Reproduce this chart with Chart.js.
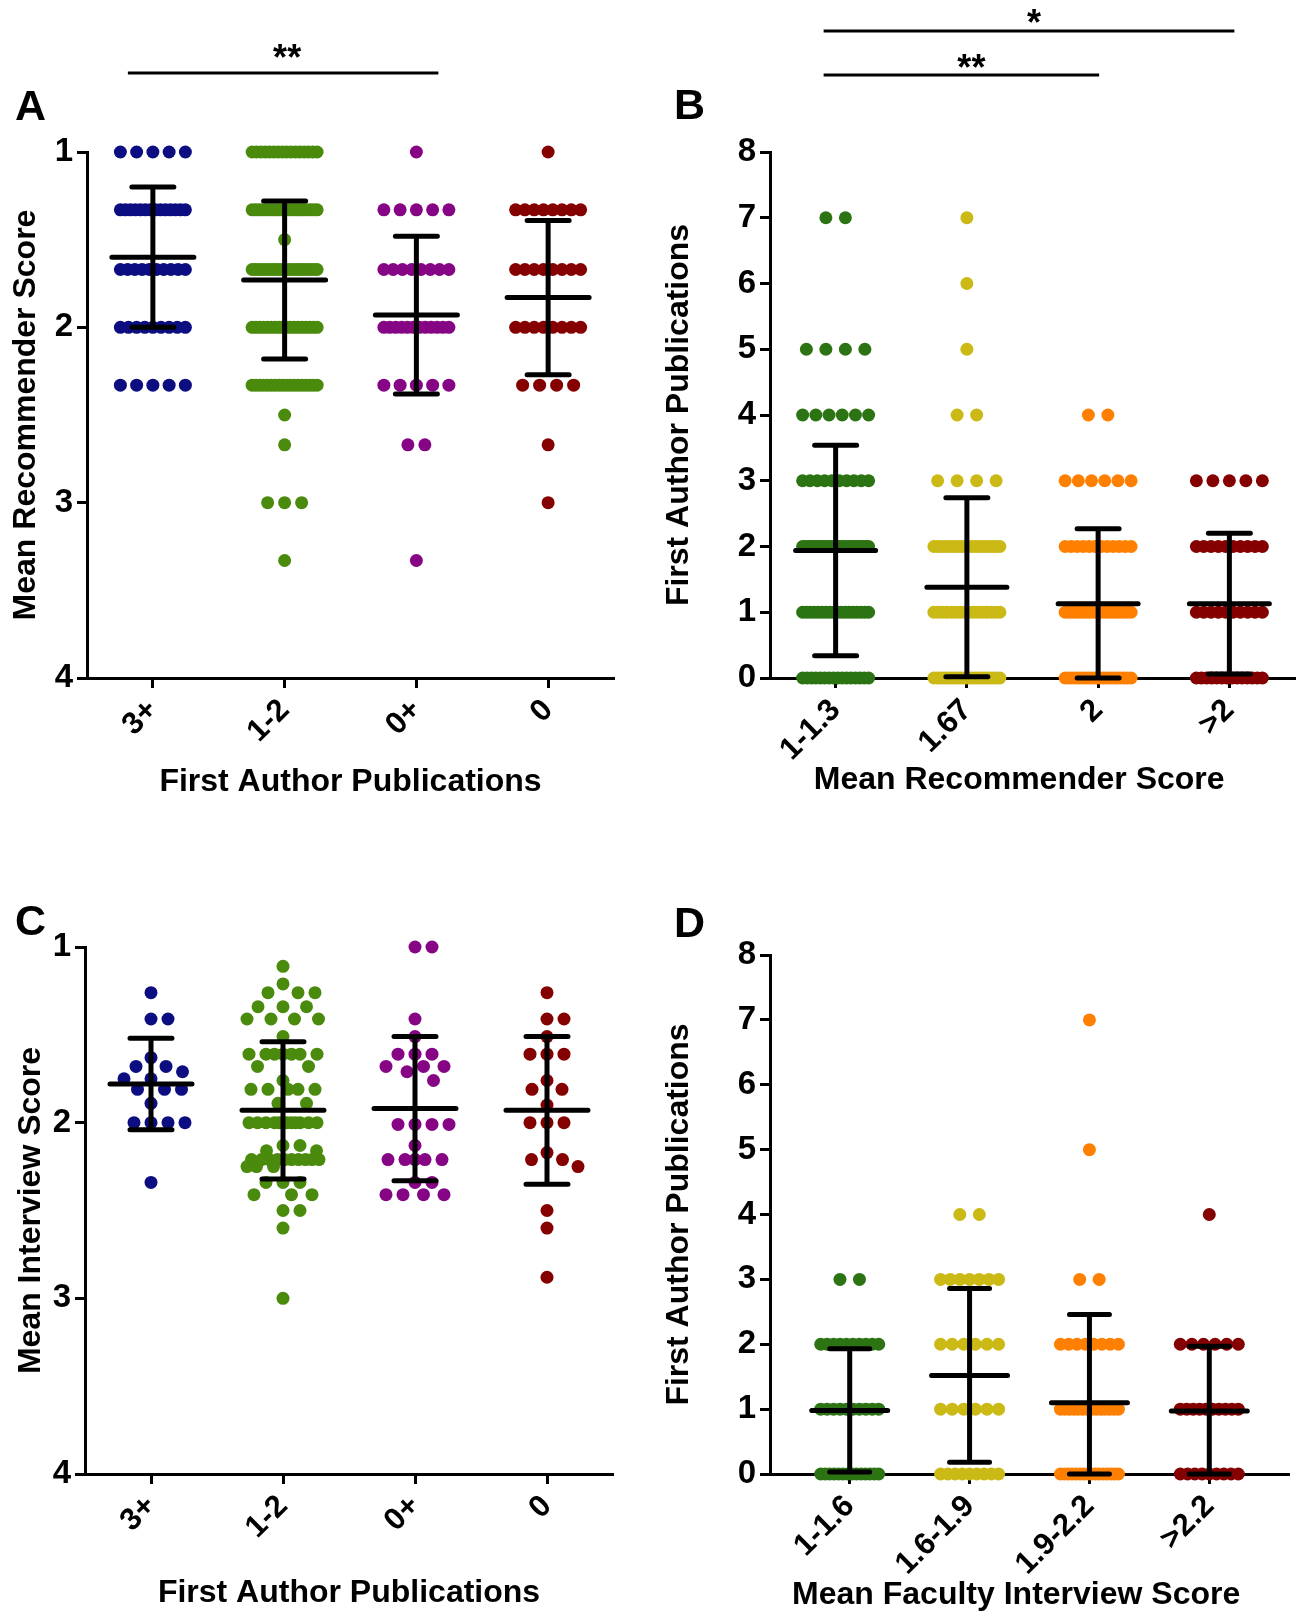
<!DOCTYPE html>
<html>
<head>
<meta charset="utf-8">
<title>Scatter dot plots</title>
<script src="https://cdn.jsdelivr.net/npm/chart.js@4.4.1/dist/chart.umd.min.js"></script>
<style>
  html, body { margin: 0; padding: 0; background: #ffffff; }
  #page { position: relative; width: 1303px; height: 1614px; overflow: hidden; }
  #page canvas { position: absolute; }
</style>
</head>
<body>
<div id="page">
  <canvas id="chartA" width="650" height="807" style="left:0px;top:0px"></canvas>
  <canvas id="chartB" width="653" height="807" style="left:650px;top:0px"></canvas>
  <canvas id="chartC" width="650" height="807" style="left:0px;top:807px"></canvas>
  <canvas id="chartD" width="653" height="807" style="left:650px;top:807px"></canvas>
</div>
<script>
// ---------- data ----------
// A: mean recommender score by first author publications (dots per score level)
const pubGroups = ['3+', '1-2', '0+', '0'];
const recLevels = [1, 1.33, 1.5, 1.67, 2, 2.33, 2.5, 2.67, 3, 3.33];
const recCount3plus = [5, 14, 0, 10, 9, 5, 0, 0, 0, 0];
const recCount1to2 = [16, 20, 1, 20, 18, 18, 1, 1, 3, 1];
const recCount0plus = [1, 5, 0, 8, 12, 5, 0, 2, 0, 1];
const recCount0 = [1, 8, 0, 8, 8, 4, 0, 1, 1, 0];
const recMean = [1.60, 1.73, 1.93, 1.83];
const recSD = [0.40, 0.45, 0.45, 0.44];

// B: first author publications by mean recommender score
const recGroups = ['1-1.3', '1.67', '2', '>2'];
const pubLevels = [0, 1, 2, 3, 4, 5, 6, 7];
const pubCountRec1 = [16, 18, 24, 10, 6, 4, 0, 2];
const pubCountRec167 = [20, 16, 18, 4, 2, 1, 1, 1];
const pubCountRec2 = [20, 18, 12, 6, 2, 0, 0, 0];
const pubCountRecOver2 = [14, 10, 10, 5, 0, 0, 0, 0];
const pubMeanB = [1.94, 1.38, 1.13, 1.13];
const pubSDB = [1.60, 1.36, 1.14, 1.07];

// C: mean interview score by first author publications (one value per applicant)
const int3plus = [1.26, 1.41, 1.41, 1.63, 1.68, 1.68, 1.71, 1.75, 1.75, 1.81, 1.81, 1.81, 1.89,
  2.0, 2.0, 2.0, 2.0, 2.34];
const int1to2 = [1.11, 1.21, 1.26, 1.26, 1.26, 1.34, 1.34, 1.34, 1.41, 1.41, 1.41, 1.41, 1.51,
  1.61, 1.61, 1.61, 1.61, 1.61, 1.61, 1.61, 1.68, 1.68, 1.76, 1.81, 1.81, 1.81, 1.81, 1.81,
  1.89, 1.89, 2.0, 2.0, 2.0, 2.0, 2.0, 2.0, 2.0, 2.0, 2.0, 2.0, 2.0, 2.0, 2.13, 2.13, 2.16, 2.16,
  2.21, 2.21, 2.21, 2.21, 2.21, 2.21, 2.21, 2.21, 2.21, 2.21, 2.25, 2.25, 2.25, 2.34, 2.34, 2.34,
  2.41, 2.41, 2.41, 2.5, 2.5, 2.6, 3.0];
const int0plus = [1.0, 1.0, 1.41, 1.51, 1.61, 1.61, 1.61, 1.68, 1.68, 1.68, 1.71, 1.76,
  2.01, 2.01, 2.01, 2.01, 2.13, 2.21, 2.21, 2.21, 2.21, 2.21, 2.34, 2.34, 2.41, 2.41, 2.41, 2.41];
const int0 = [1.26, 1.41, 1.41, 1.51, 1.61, 1.61, 1.61, 1.76, 1.81, 1.81, 1.9, 2.0, 2.0, 2.0,
  2.17, 2.21, 2.21, 2.25, 2.5, 2.6, 2.88];
const intMean = [1.78, 1.93, 1.92, 1.93];
const intSD = [0.26, 0.39, 0.41, 0.42];

// D: first author publications by mean faculty interview score
const intGroups = ['1-1.6', '1.6-1.9', '1.9-2.2', '>2.2'];
const pubCountInt1 = [14, 10, 10, 2, 0, 0, 0, 0];
const pubCountInt16 = [9, 6, 6, 7, 2, 0, 0, 0];
const pubCountInt19 = [16, 14, 8, 2, 0, 1, 0, 1];
const pubCountIntOver22 = [9, 10, 6, 0, 1, 0, 0, 0];
const pubMeanD = [0.98, 1.52, 1.10, 0.97];
const pubSDD = [0.95, 1.34, 1.36, 1.00];

const pubColors = ['#0d0d82', '#4a8a0d', '#850585', '#850000'];
const scoreColors = ['#2c7413', '#cbb916', '#ff8000', '#850000'];

// ---------- layout ----------
const FONT = "'Liberation Sans', Arial, sans-serif";
Chart.defaults.font.family = FONT;
Chart.defaults.color = '#000';

const geoA = { l: 87, r: 614, t: 152, b: 678, xMin: -0.5, xMax: 3.5 };
const geoB = { l: 120, r: 645, t: 152, b: 678, xMin: -0.5, xMax: 3.5 };
const geoC = { l: 85, r: 613, t: 140, b: 667, xMin: -0.5, xMax: 3.5 };
const geoD = { l: 120, r: 639, t: 148, b: 667, xMin: -0.665, xMax: 3.665 };

function pxPerX(g) { return (g.r - g.l) / (g.xMax - g.xMin); }

// dots with the same value sit in one row, squeezed when the row gets too wide
function rowPoints(levels, counts, idx, pxX, gap, maxHalf) {
  const pts = [];
  levels.forEach((v, k) => {
    const n = counts[k];
    if (!n) return;
    const step = n > 1 ? Math.min(gap, 2 * maxHalf / (n - 1)) : 0;
    for (let j = 0; j < n; j++) {
      pts.push({ x: idx + (j - (n - 1) / 2) * step / pxX, y: v });
    }
  });
  return pts;
}

// simple beeswarm for continuous values
function swarmPoints(values, idx, pxX, pxY, gap, maxHalf) {
  const placed = [];
  values.slice().sort((a, b) => a - b).forEach(v => {
    const y = v * pxY;
    let best = 0, bestScore = -Infinity;
    for (let k = 0; k <= maxHalf && bestScore !== Infinity; k += 0.5) {
      for (const s of (k === 0 ? [0] : [k, -k])) {
        let minD = Infinity;
        placed.forEach(p => { minD = Math.min(minD, Math.hypot(p.x - s, p.y - y)); });
        if (minD >= gap) { best = s; bestScore = Infinity; break; }
        if (minD > bestScore) { bestScore = minD; best = s; }
      }
    }
    placed.push({ x: best, y: y, v: v });
  });
  return placed.map(p => ({ x: idx + p.x / pxX, y: p.v }));
}

function dotSet(label, data, color) {
  return {
    label: label,
    data: data,
    backgroundColor: color,
    borderWidth: 0,
    pointRadius: 6.5,
    pointHoverRadius: 6.5,
    clip: false
  };
}

const decorPlugin = {
  id: 'decor',
  afterDatasetsDraw(chart, args, o) {
    const ctx = chart.ctx;
    const xs = chart.scales.x, ys = chart.scales.y;
    ctx.save();
    ctx.strokeStyle = '#000';
    ctx.lineWidth = 5;
    ctx.lineCap = 'round';
    o.means.forEach((m, i) => {
      const cx = xs.getPixelForValue(i);
      const yM = ys.getPixelForValue(m);
      const yLo = ys.getPixelForValue(Math.max(m - o.sds[i], ys.min));
      const yHi = ys.getPixelForValue(Math.min(m + o.sds[i], ys.max));
      ctx.beginPath();
      ctx.moveTo(cx, yLo); ctx.lineTo(cx, yHi);
      ctx.moveTo(cx - o.capHalf, yLo); ctx.lineTo(cx + o.capHalf, yLo);
      ctx.moveTo(cx - o.capHalf, yHi); ctx.lineTo(cx + o.capHalf, yHi);
      ctx.moveTo(cx - o.meanHalf, yM); ctx.lineTo(cx + o.meanHalf, yM);
      ctx.stroke();
    });
    ctx.restore();
  },
  afterDraw(chart, args, o) {
    const ctx = chart.ctx;
    const xs = chart.scales.x;
    ctx.save();
    ctx.fillStyle = '#000';
    ctx.strokeStyle = '#000';
    ctx.textBaseline = 'alphabetic';
    ctx.textAlign = 'left';
    ctx.font = 'bold 43px ' + FONT;
    ctx.fillText(o.letter, o.letterX, o.letterY);
    (o.sig || []).forEach(s => {
      const x1 = xs.getPixelForValue(s.from) - s.padL;
      const x2 = xs.getPixelForValue(s.to) + s.padR;
      ctx.lineWidth = 3;
      ctx.beginPath();
      ctx.moveTo(x1, s.y); ctx.lineTo(x2, s.y);
      ctx.stroke();
      ctx.font = 'bold 36px ' + FONT;
      ctx.textAlign = 'center';
      ctx.fillText(s.text, (x1 + x2) / 2 + s.dx, s.textY);
    });
    ctx.restore();
  }
};

function makePanel(id, g, datasets, axes, decor) {
  const canvas = document.getElementById(id);
  const W = canvas.width, H = canvas.height;
  return new Chart(canvas.getContext('2d'), {
    type: 'scatter',
    data: { datasets: datasets },
    options: {
      responsive: false,
      animation: false,
      events: [],
      layout: { padding: { left: 0, top: g.t, right: W - g.r, bottom: 0 } },
      plugins: { legend: { display: false }, tooltip: { enabled: false }, decor: decor },
      scales: {
        x: {
          type: 'linear',
          min: g.xMin,
          max: g.xMax,
          afterBuildTicks: s => { s.ticks = axes.labels.map((_, i) => ({ value: i })); },
          afterFit: s => { s.height = H - g.b; },
          ticks: {
            autoSkip: false,
            minRotation: 45,
            maxRotation: 45,
            padding: 4,
            color: '#000',
            font: { size: 31, weight: 'bold' },
            callback: v => axes.labels[v]
          },
          grid: { drawOnChartArea: false, drawTicks: true, tickLength: 10, tickColor: '#000', tickWidth: 3 },
          border: { display: true, color: '#000', width: 3 },
          title: {
            display: true, text: axes.xTitle, color: '#000',
            font: { size: 32, weight: 'bold' }, padding: { top: 0, bottom: axes.xTitlePad }
          }
        },
        y: {
          type: 'linear',
          min: axes.yMin,
          max: axes.yMax,
          reverse: axes.reverse,
          afterFit: s => { s.width = g.l; },
          ticks: { stepSize: 1, padding: 4, color: '#000', font: { size: 33, weight: 'bold' } },
          grid: { drawOnChartArea: false, drawTicks: true, tickLength: 10, tickColor: '#000', tickWidth: 3 },
          border: { display: true, color: '#000', width: 3 },
          title: {
            display: true, text: axes.yTitle, color: '#000',
            font: { size: 32, weight: 'bold' }, padding: { top: axes.yTitlePad, bottom: 0 }
          }
        }
      }
    },
    plugins: [decorPlugin]
  });
}

// trailing spaces nudge an axis title left of the axis centre, as in the original
const pad3 = '\u00a0\u00a0\u00a0';

// ---------- panel A ----------
const recCounts = [recCount3plus, recCount1to2, recCount0plus, recCount0];
makePanel('chartA', geoA,
  recCounts.map((c, i) => dotSet(pubGroups[i], rowPoints(recLevels, c, i, pxPerX(geoA), 17, 32.5), pubColors[i])),
  { labels: pubGroups, xTitle: 'First Author Publications', xTitlePad: 6,
    yTitle: 'Mean Recommender Score', yTitlePad: 7, yMin: 1, yMax: 4, reverse: true },
  { letter: 'A', letterX: 15, letterY: 120, means: recMean, sds: recSD, meanHalf: 41, capHalf: 21,
    sig: [{ from: 0, to: 2, padL: 25, padR: 22, y: 73, text: '**', dx: 4, textY: 70 }] });

// ---------- panel B ----------
const pubCountsB = [pubCountRec1, pubCountRec167, pubCountRec2, pubCountRecOver2];
makePanel('chartB', geoB,
  pubCountsB.map((c, i) => dotSet(recGroups[i], rowPoints(pubLevels, c, i, pxPerX(geoB), 19.5, 33), scoreColors[i])),
  { labels: recGroups, xTitle: 'Mean Recommender Score' + pad3, xTitlePad: 8,
    yTitle: 'First Author Publications', yTitlePad: 10, yMin: 0, yMax: 8, reverse: false },
  { letter: 'B', letterX: 24, letterY: 119, means: pubMeanB, sds: pubSDB, meanHalf: 40, capHalf: 21,
    sig: [{ from: 0, to: 3, padL: 12, padR: 5, y: 31, text: '*', dx: 5, textY: 35 },
          { from: 0, to: 2, padL: 12, padR: 1, y: 75, text: '**', dx: 10, textY: 80 }] });

// ---------- panel C ----------
const intValues = [int3plus, int1to2, int0plus, int0];
const pxYC = (geoC.b - geoC.t) / 3;
makePanel('chartC', geoC,
  intValues.map((v, i) => dotSet(pubGroups[i], swarmPoints(v, i, pxPerX(geoC), pxYC, 17, 36), pubColors[i])),
  { labels: pubGroups, xTitle: 'First Author Publications', xTitlePad: 2,
    yTitle: 'Mean Interview Score', yTitlePad: 12, yMin: 1, yMax: 4, reverse: true },
  { letter: 'C', letterX: 15, letterY: 128, means: intMean, sds: intSD, meanHalf: 41, capHalf: 21 });

// ---------- panel D ----------
const pubCountsD = [pubCountInt1, pubCountInt16, pubCountInt19, pubCountIntOver22];
makePanel('chartD', geoD,
  pubCountsD.map((c, i) => dotSet(intGroups[i], rowPoints(pubLevels, c, i, pxPerX(geoD), 19.5, 29), scoreColors[i])),
  { labels: intGroups, xTitle: 'Mean Faculty Interview Score' + pad3, xTitlePad: 0,
    yTitle: 'First Author Publications', yTitlePad: 10, yMin: 0, yMax: 8, reverse: false },
  { letter: 'D', letterX: 24, letterY: 130, means: pubMeanD, sds: pubSDD, meanHalf: 38, capHalf: 20 });
</script>
</body>
</html>
